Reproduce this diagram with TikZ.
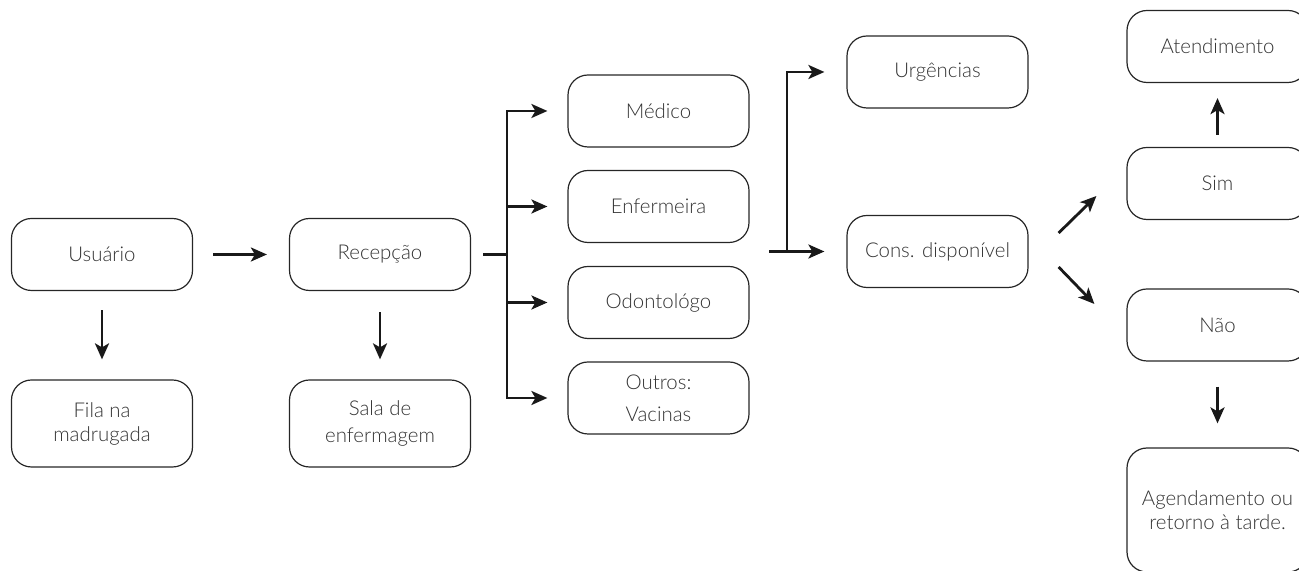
\documentclass[tikz,border=0pt]{standalone}
\usepackage{fontspec}
\setmainfont{Lato Light}
\usepackage{xcolor}
\usetikzlibrary{arrows.meta}
\definecolor{inkgray}{HTML}{333333}

\begin{document}
\begin{tikzpicture}[line cap=butt,line join=miter,x=0.5pt,y=0.5pt,
  >={Stealth[length=8pt,width=7pt,inset=2pt]},
  box/.style={draw=black!85,line width=0.6pt,rounded corners=10pt,minimum width=90.5pt,minimum height=36pt,inner sep=0pt,align=center,text=inkgray,font=\fontsize{10.2}{12}\selectfont},
  conn/.style={line width=1.4pt,black!90}]

\useasboundingbox (0,0) rectangle (1299,571);
\clip (0,0) rectangle (1299,571);

\node [box] (usuario) at (102,316.5) {Usuário};
\node [box,minimum height=43.5pt] (fila) at (102,147.5) {Fila na\\madrugada};
\node [box] (recepcao) at (380,316.5) {Recepção};
\node [box,minimum height=43.5pt] (sala) at (380,147.5) {Sala de\\[1.5pt]enfermagem};
\node [box] (medico) at (658.5,460) {Médico};
\node [box] (enfermeira) at (658.5,364.5) {Enfermeira};
\node [box] (odonto) at (658.5,268.5) {Odontológo};
\node [box] (outros) at (658.5,173) {Outros:\\[4pt]Vacinas};
\node [box] (urgencias) at (937.5,499) {Urgências};
\node [box] (cons) at (937.5,319.5) {Cons. disponível};
\node [box] (atendimento) at (1217.5,524.5) {Atendimento};
\node [box] (sim) at (1217.5,387.5) {Sim};
\node [box] (nao) at (1217.5,246) {Não};
\node [box,minimum height=62pt] (agenda) at (1217.5,61) {Agendamento ou\\retorno à tarde.};

\coordinate (busR) at (507,316.5);
\coordinate (busC) at (787,319.5);

\draw [conn,->] ([xshift=10pt]usuario.east)-- ([xshift=-11pt]recepcao.west);
\draw [conn,->] ([yshift=-9.5pt]usuario.south)-- ([yshift=10pt]fila.north);
\draw [conn,->] ([yshift=-10.5pt]recepcao.south)-- ([yshift=10pt]sala.north);
\draw [conn] ([xshift=6pt]recepcao.east)-- (busR);
\draw [conn,->] (busR) |- ([xshift=-10pt]medico.west);
\draw [conn,->] (busR) |- ([xshift=-10pt]outros.west);
\draw [conn,->] (busR |- enfermeira)-- ([xshift=-10pt]enfermeira.west);
\draw [conn,->] (busR |- odonto)-- ([xshift=-10pt]odonto.west);
\draw [conn,->] ([xshift=-38.5pt]cons.west)-- ([xshift=-11pt]cons.west);
\draw [conn,->] (busC) |- ([xshift=-11pt]urgencias.west);
\draw [conn,->] ([shift={(15pt,9.25pt)}]cons.east)-- ([shift={(-15pt,-6.25pt)}]sim.west);
\draw [conn,->] ([shift={(15pt,-7.75pt)}]cons.east)-- ([shift={(-16pt,10.5pt)}]nao.west);
\draw [conn,->] ([yshift=6pt]sim.north)-- ([yshift=-7.5pt]atendimento.south);
\draw [conn,->] ([yshift=-12.5pt]nao.south)-- ([yshift=12pt]agenda.north);
\end{tikzpicture}
\end{document}
